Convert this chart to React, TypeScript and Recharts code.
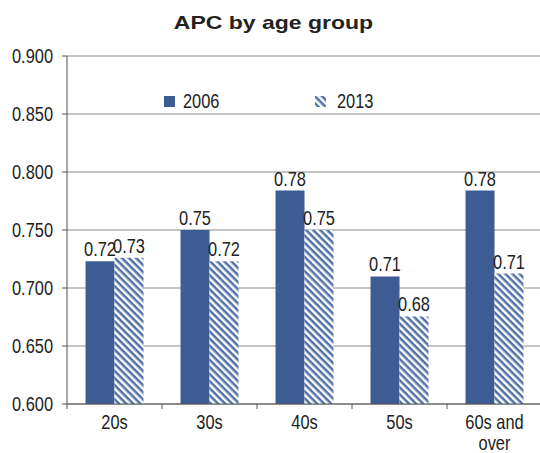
import { BarChart, Bar, XAxis, YAxis, CartesianGrid, LabelList } from "recharts";

const categories = ["20s", "30s", "40s", "50s", "60s and over"];
const apc2006 = [0.723, 0.75, 0.784, 0.71, 0.784];
const apc2013 = [0.726, 0.723, 0.75, 0.6755, 0.7125];
const yTicks = [0.6, 0.65, 0.7, 0.75, 0.8, 0.85, 0.9];

const data = categories.map((name, i) => ({
  name,
  y2006: apc2006[i],
  y2013: apc2013[i],
}));

const BLUE = "#3d5c93";
const STRIPE = "#5070a8";
const FONT = "'Liberation Sans', Arial, sans-serif";
const TEXT = "#222";
const FS = 20.5;
// condensed look for all chart text
const NARROW = 0.8;

const PLOT_LEFT = 67;
const PLOT_RIGHT = 542;
const BAND = (PLOT_RIGHT - PLOT_LEFT) / categories.length;

function NarrowText({ x, y, anchor, children }: { x: number; y: number; anchor: string; children: any }) {
  return (
    <text
      transform={`translate(${x},${y}) scale(${NARROW},1)`}
      textAnchor={anchor}
      fill={TEXT}
      fontSize={FS}
      fontFamily={FONT}
    >
      {children}
    </text>
  );
}

function CategoryTick(props: any) {
  const { x, y, payload, index } = props;
  const words = String(payload.value).split(" ");
  const lines = words.length > 2 ? [words.slice(0, 2).join(" "), words.slice(2).join(" ")] : [payload.value];
  return (
    <g>
      {index === 0 && <line x1={x - BAND / 2} x2={x - BAND / 2} y1={y} y2={y + 5} stroke="#555" />}
      <line x1={x + BAND / 2} x2={x + BAND / 2} y1={y} y2={y + 5} stroke="#555" />
      {lines.map((l: string, i: number) => (
        <NarrowText key={i} x={x} y={y + 25 + i * 21} anchor="middle">
          {l}
        </NarrowText>
      ))}
    </g>
  );
}

function ValueTick(props: any) {
  const { x, y, payload } = props;
  return (
    <NarrowText x={x} y={y + 7} anchor="end">
      {Number(payload.value).toFixed(3)}
    </NarrowText>
  );
}

function ValueLabel(props: any) {
  const { x, y, width, value } = props;
  return (
    <NarrowText x={x + width / 2} y={y - 5} anchor="middle">
      {Number(value).toFixed(2)}
    </NarrowText>
  );
}

function SeriesLegend() {
  return (
    <svg width={260} height={24} style={{ position: "absolute", left: 160, top: 88 }}>
      <rect x={4} y={8} width={11} height={11} fill={BLUE} />
      <NarrowText x={23} y={20} anchor="start">2006</NarrowText>
      <rect x={155} y={8} width={11} height={11} fill="url(#hatch2013)" />
      <NarrowText x={177} y={20} anchor="start">2013</NarrowText>
    </svg>
  );
}

export default function App() {
  return (
    <div style={{ position: "relative", width: 540, height: 453, overflow: "hidden", background: "#fff" }}>
      <style>{`body{margin:0}`}</style>
      <div
        style={{
          position: "absolute",
          left: 0,
          top: 12,
          width: 547,
          textAlign: "center",
          fontFamily: FONT,
          fontWeight: "bold",
          fontSize: 19,
          color: TEXT,
          transform: "scaleX(1.21)",
          transformOrigin: "273.5px 0",
        }}
      >
        APC by age group
      </div>
      <BarChart
        width={542}
        height={453}
        data={data}
        margin={{ top: 56, right: 0, bottom: 0, left: 0 }}
        barCategoryGap="19.5%"
        barGap={0}
      >
        <defs>
          <pattern id="hatch2013" patternUnits="userSpaceOnUse" width={5} height={5} patternTransform="rotate(45)">
            <rect x={0} y={0} width={5} height={5} fill="#fff" />
            <rect x={0} y={0} width={5} height={2.5} fill={STRIPE} />
          </pattern>
        </defs>
        <CartesianGrid vertical={false} stroke="#8a8a8a" strokeWidth={1.2} />
        <XAxis
          dataKey="name"
          height={49}
          tickSize={0}
          tickMargin={0}
          tickLine={false}
          axisLine={{ stroke: "#555" }}
          tick={<CategoryTick />}
          interval={0}
        />
        <YAxis
          width={67}
          domain={[0.6, 0.9]}
          ticks={yTicks}
          allowDataOverflow
          tickSize={5}
          tickMargin={9}
          tick={<ValueTick />}
          axisLine={{ stroke: "#555" }}
          tickLine={{ stroke: "#555" }}
        />
        <Bar dataKey="y2006" name="2006" fill={BLUE} isAnimationActive={false}>
          <LabelList dataKey="y2006" content={<ValueLabel />} />
        </Bar>
        <Bar dataKey="y2013" name="2013" fill="url(#hatch2013)" isAnimationActive={false}>
          <LabelList dataKey="y2013" content={<ValueLabel />} />
        </Bar>
      </BarChart>
      <SeriesLegend />
    </div>
  );
}
